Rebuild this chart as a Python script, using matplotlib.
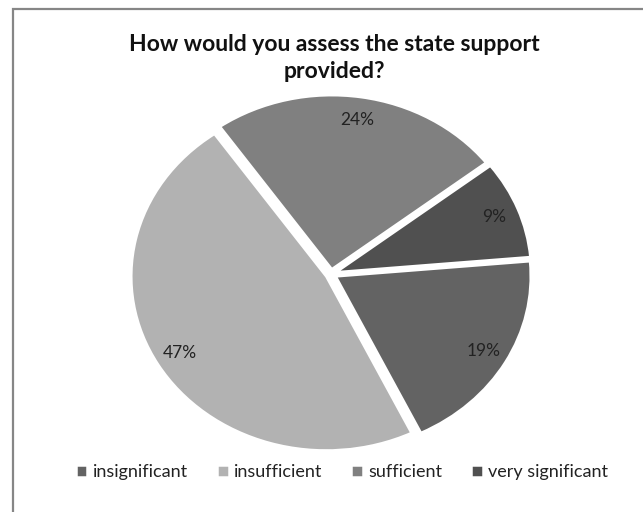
import matplotlib
matplotlib.use("Agg")
import matplotlib.pyplot as plt
from matplotlib.patches import Rectangle

categories = ["insignificant", "insufficient", "sufficient", "very significant"]
values = [19, 47, 24, 9]
colors = ["#636363", "#b2b2b2", "#808080", "#505050"]
title = "How would you assess the state support\nprovided?"

plt.rcParams['font.family'] = ['Lato', 'DejaVu Sans']

W, H = 643, 512
fig = plt.figure(figsize=(W / 100, H / 100), dpi=100)

# figure border (only top and left edges visible in the frame)
fig.patches.append(Rectangle((12.5 / W, -0.05), 1.0, (H - 8.5) / H + 0.05,
                             transform=fig.transFigure, fill=False,
                             edgecolor="#868686", linewidth=1.6))

cx, cy = 331, 274  # pixel center (from top)
rx, ry = 195, 174
L = 1.2
aw, ah = 2 * L * rx, 2 * L * ry
ax = fig.add_axes([(cx - aw / 2) / W, ((H - cy) - ah / 2) / H, aw / W, ah / H])

wedges, texts, autotexts = ax.pie(
    values, colors=colors, startangle=5, counterclock=False,
    explode=[0.028] * len(values), autopct='%.0f%%', pctdistance=0.87,
    wedgeprops=dict(edgecolor='white', linewidth=1.8),
    textprops=dict(fontsize=12.5, color='#222222'), frame=True)
ax.set_xlim(-L, L)
ax.set_ylim(-L, L)
ax.set_aspect('auto')
ax.axis('off')

fig.text(334 / W, 1 - 58 / H, title, ha='center', va='center', fontsize=16.5,
         fontweight='bold', linespacing=1.3, color='#111111')

fig.legend(wedges, categories, loc='center', bbox_to_anchor=(342 / W, 1 - 472 / H),
           ncol=4, frameon=False, fontsize=13, handlelength=0.65, handleheight=0.65,
           handletextpad=0.3, columnspacing=1.6, labelcolor='#222222')

fig.savefig("out.png", dpi=100)
